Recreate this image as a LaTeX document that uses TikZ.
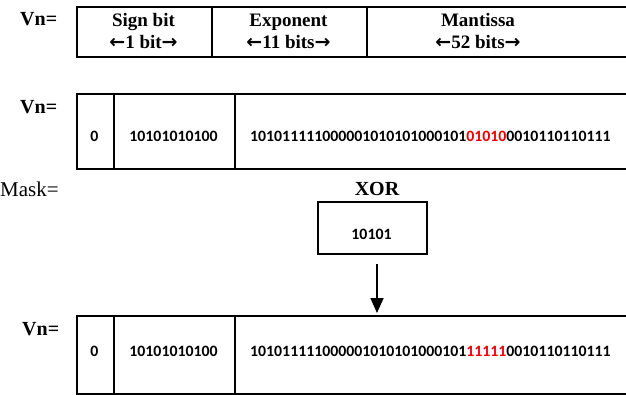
\documentclass[tikz,border=0pt]{standalone}
\usepackage{fontspec}
\setmainfont{Liberation Serif}
\newfontfamily\calfont{Carlito}
\newfontfamily\dvfont{DejaVu Sans}
\usetikzlibrary{arrows.meta}
\definecolor{bitred}{RGB}{235,0,0}
\newcommand{\larr}{{\dvfont\bfseries ←}}
\newcommand{\rarr}{{\dvfont\bfseries →}}
\begin{document}
\begin{tikzpicture}[x=1pt,y=-1pt,
  cell/.style={draw, line width=1.6pt, inner sep=0pt, anchor=north west},
  bits/.style={font=\calfont\bfseries\fontsize{15.8}{17}\selectfont, inner sep=0pt},
  head/.style={font=\bfseries\fontsize{19}{22}\selectfont, inner sep=0pt, align=center},
  lab/.style={font=\bfseries\fontsize{20}{22}\selectfont, inner sep=0pt, anchor=west},
  plainlab/.style={font=\fontsize{21}{22}\selectfont, inner sep=0pt, anchor=west}]
\useasboundingbox (0,0) rectangle (626,394);
\clip (0,0) rectangle (626,394);
% row 1
\node[lab] (v1) at (20,19) {Vn=};
\node[cell, minimum width=135pt, minimum height=50pt] (s1) at (76,6) {};
\node[cell, minimum width=155pt, minimum height=50pt] (e1) at (211,6) {};
\node[cell, minimum width=300pt, minimum height=50pt] (m1) at (366,6) {};
\node[head] (ts1) at (143.5,31) {Sign bit\\\larr1 bit\rarr};
\node[head] (te1) at (288.5,31) {Exponent\\\larr11 bits\rarr};
\node[head] (tm1) at (478,31) {Mantissa\\\larr52 bits\rarr};
% row 2
\node[lab] (v2) at (20,107) {Vn=};
\node[cell, minimum width=37pt, minimum height=75pt] (s2) at (76,93) {};
\node[cell, minimum width=121pt, minimum height=75pt] (e2) at (113,93) {};
\node[cell, minimum width=420pt, minimum height=75pt] (m2) at (234,93) {};
\node[bits] (b2s) at (94.5,136) {0};
\node[bits] (b2e) at (173.5,136) {10101010100};
\node[bits, anchor=west] (b2m) at (250,136) {101011111000001010101000101\textcolor{bitred}{01010}0010110110111};
% mask
\node[plainlab] (mask) at (0,189) {Mask=};
\node[lab, anchor=center] (xor) at (377,189) {XOR};
\node[cell, minimum width=109pt, minimum height=52pt] (mk) at (317,201) {};
\node[bits] (b3) at (371.5,234) {10101};
% row 3
\node[lab] (v3) at (22,329) {Vn=};
\node[cell, minimum width=37pt, minimum height=78pt] (s3) at (76,315) {};
\node[cell, minimum width=121pt, minimum height=78pt] (e3) at (113,315) {};
\node[cell, minimum width=420pt, minimum height=78pt] (m3) at (234,315) {};
\node[bits] (b4s) at (94.5,351) {0};
\node[bits] (b4e) at (173.5,351) {10101010100};
\node[bits, anchor=west] (b4m) at (250,351) {101011111000001010101000101\textcolor{bitred}{11111}0010110110111};
% arrow
\coordinate (astart) at (377,264);
\coordinate (aend) at (377,313);
\draw[line width=1.6pt, -{Triangle[width=13pt,length=15pt]}] (astart) -- (aend);
\end{tikzpicture}
\end{document}
